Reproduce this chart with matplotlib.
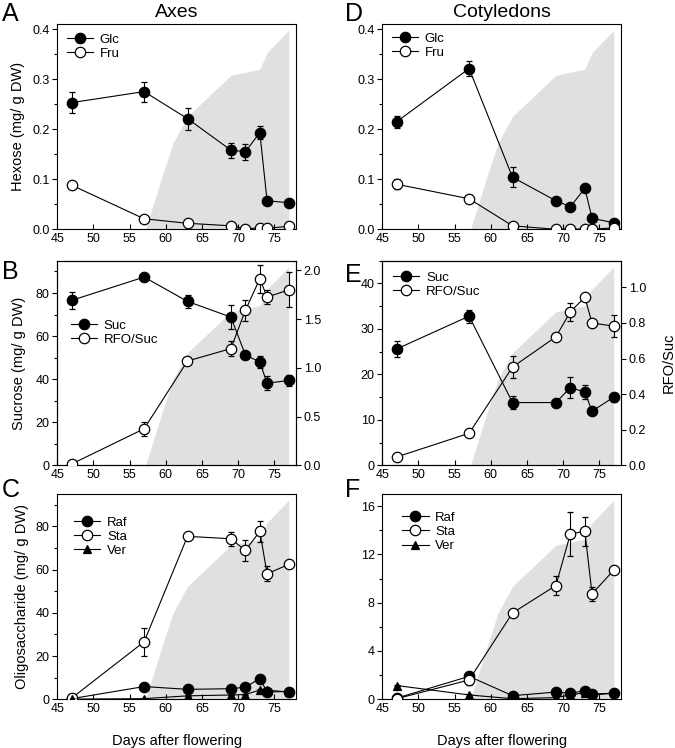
import matplotlib.pyplot as plt
import numpy as np
from matplotlib.ticker import MultipleLocator

plt.rcParams['font.family'] = ['Liberation Sans', 'DejaVu Sans']
plt.rcParams['axes.linewidth'] = 0.8

days = [47, 57, 63, 69, 71, 73, 74, 77]
day_ticks = [45, 50, 55, 60, 65, 70, 75]

# grey background curve, as a fraction of the axis height
shade_days = [57.2, 59.5, 61.0, 63.0, 69.0, 73.0, 74.0, 77.0]
shade_frac = [0.0, 0.26, 0.42, 0.55, 0.75, 0.78, 0.86, 0.97]

# A - axes hexose
ax_glc = [0.253, 0.275, 0.221, 0.158, 0.155, 0.193, 0.057, 0.053]
ax_glc_err = [0.021, 0.020, 0.022, 0.015, 0.016, 0.013, 0.004, 0.007]
ax_fru = [0.088, 0.021, 0.012, 0.007, 0.001, 0.003, 0.002, 0.006]
ax_fru_err = [0.007, 0.004, 0.002, 0.002, 0.001, 0.001, 0.001, 0.002]

# B - axes sucrose and RFO/Suc
ax_suc = [76.6, 87.4, 76.1, 68.8, 51.3, 47.9, 38.1, 39.4]
ax_suc_err = [3.8, 0.8, 2.9, 5.5, 1.5, 2.7, 3.3, 2.7]
ax_rfo = [0.014, 0.375, 1.07, 1.198, 1.59, 1.915, 1.727, 1.80]
ax_rfo_err = [0.01, 0.073, 0.02, 0.08, 0.105, 0.145, 0.068, 0.18]

# C - axes oligosaccharides
ax_raf = [0.3, 5.9, 4.6, 4.9, 5.6, 9.6, 3.4, 3.6]
ax_raf_err = [0.2, 0.5, 0.5, 0.6, 0.6, 1.0, 0.5, 0.4]
ax_sta = [0.6, 26.6, 75.4, 74.3, 68.9, 77.7, 58.1, 62.4]
ax_sta_err = [0.3, 6.4, 1.0, 3.3, 4.7, 4.9, 3.5, 1.0]
ax_ver = [0.1, 0.3, 1.6, 2.0, 2.2, 4.3, 4.2, 3.4]
ax_ver_err = [0.1, 0.1, 0.2, 0.2, 0.2, 0.4, 0.3, 0.3]

# D - cotyledon hexose
cot_glc = [0.215, 0.321, 0.104, 0.057, 0.045, 0.082, 0.022, 0.013]
cot_glc_err = [0.012, 0.015, 0.020, 0.003, 0.005, 0.003, 0.003, 0.002]
cot_fru = [0.090, 0.061, 0.007, 0.0, 0.001, 0.0, 0.0, 0.003]
cot_fru_err = [0.010, 0.003, 0.002, 0.001, 0.001, 0.001, 0.001, 0.001]

# E - cotyledon sucrose and RFO/Suc
cot_suc = [25.6, 32.8, 13.8, 13.8, 17.1, 16.1, 11.9, 15.0]
cot_suc_err = [1.7, 1.4, 1.5, 0.8, 2.4, 1.5, 0.5, 1.0]
cot_rfo = [0.047, 0.18, 0.552, 0.722, 0.863, 0.944, 0.80, 0.782]
cot_rfo_err = [0.005, 0.015, 0.062, 0.02, 0.052, 0.01, 0.02, 0.06]

# F - cotyledon oligosaccharides
cot_raf = [0.1, 1.9, 0.3, 0.6, 0.5, 0.72, 0.44, 0.5]
cot_raf_err = [0.05, 0.1, 0.05, 0.05, 0.05, 0.05, 0.05, 0.05]
cot_sta = [0.05, 1.6, 7.15, 9.42, 13.7, 13.9, 8.73, 10.7]
cot_sta_err = [0.05, 0.45, 0.1, 0.75, 1.8, 1.2, 0.6, 0.2]
cot_ver = [1.14, 0.36, 0.05, 0.14, 0.36, 0.55, 0.36, 0.5]
cot_ver_err = [0.05, 0.1, 0.02, 0.02, 0.05, 0.05, 0.05, 0.05]

hex_ticks = [0.0, 0.1, 0.2, 0.3, 0.4]
suc_ticks_ax = [0, 20, 40, 60, 80]
rfo_ticks_ax = [0.0, 0.5, 1.0, 1.5, 2.0]
suc_ticks_cot = [0, 10, 20, 30, 40]
rfo_ticks_cot = [0.0, 0.2, 0.4, 0.6, 0.8, 1.0]
oligo_ticks_ax = [0, 20, 40, 60, 80]
oligo_ticks_cot = [0, 4, 8, 12, 16]

fig = plt.figure(figsize=(6.75, 7.48), dpi=100)

W, H = 675.0, 748.0
cols = [57.3, 382.3]
rows = [(24, 229.3), (260.7, 465.3), (494, 699.3)]
aw = 238.7
TICK = 9
LEG = 9.5
LAB = 10.5


def make_ax(c, r):
    top, bot = rows[r]
    return fig.add_axes([cols[c] / W, 1 - bot / H, aw / W, (bot - top) / H])


def shade(ax):
    ax.fill_between(shade_days, 0, shade_frac, transform=ax.get_xaxis_transform(),
                    color='#e0e0e0', lw=0, zorder=0)


def series(ax, y, err, marker, face, ms=7.5):
    c = ax.errorbar(days, y, yerr=err, color='black', marker=marker, mfc=face,
                    mec='black', mew=0.9, ms=ms, lw=0.8, elinewidth=0.8,
                    capsize=2.5, capthick=0.8, zorder=3)
    return c[0]


def style(ax, ylim, ticks, minor):
    ax.set_xlim(45, 78)
    ax.set_ylim(*ylim)
    ax.set_xticks(day_ticks)
    ax.set_yticks(ticks)
    ax.yaxis.set_minor_locator(MultipleLocator(minor))
    ax.tick_params(axis='x', direction='in', length=3.5, width=0.8, labelsize=TICK, pad=3)
    ax.tick_params(axis='y', which='major', direction='out', length=3.5, width=0.8, labelsize=TICK, pad=2)
    ax.tick_params(axis='y', which='minor', direction='out', length=2.5, width=0.8)


def right_style(ax, ylim, ticks):
    ax.set_ylim(*ylim)
    ax.set_yticks(ticks)
    ax.tick_params(axis='y', direction='out', length=3.5, width=0.8, labelsize=TICK, pad=2)


def legend(ax, handles, labels, x, y):
    ax.legend(handles, labels, loc='center left', bbox_to_anchor=(x, y), frameon=False,
              fontsize=LEG, handlelength=2.0, handletextpad=0.5, labelspacing=0.15,
              borderpad=0, borderaxespad=0)


def letter(x, y, s):
    fig.text(x / W, 1 - y / H, s, fontsize=18, ha='left', va='top')


# A
a = make_ax(0, 0)
shade(a)
h1 = series(a, ax_glc, ax_glc_err, 'o', 'black')
h2 = series(a, ax_fru, ax_fru_err, 'o', 'white')
style(a, (0, 0.41), hex_ticks, 0.05)
a.set_ylabel('Hexose (mg/ g DW)', fontsize=LAB, labelpad=5)
a.set_title('Axes', fontsize=14, pad=5)
legend(a, [h1, h2], ['Glc', 'Fru'], 0.04, 0.89)

# D
d = make_ax(1, 0)
shade(d)
h1 = series(d, cot_glc, cot_glc_err, 'o', 'black')
h2 = series(d, cot_fru, cot_fru_err, 'o', 'white')
style(d, (0, 0.41), hex_ticks, 0.05)
d.set_title('Cotyledons', fontsize=14, pad=5)
legend(d, [h1, h2], ['Glc', 'Fru'], 0.04, 0.895)

# B
b = make_ax(0, 1)
shade(b)
h1 = series(b, ax_suc, ax_suc_err, 'o', 'black')
style(b, (0, 95), suc_ticks_ax, 10)
b.set_ylabel('Sucrose (mg/ g DW)', fontsize=LAB, labelpad=7)
b2 = b.twinx()
h2 = series(b2, ax_rfo, ax_rfo_err, 'o', 'white')
right_style(b2, (0, 2.1), rfo_ticks_ax)
legend(b2, [h1, h2], ['Suc', 'RFO/Suc'], 0.057, 0.648)

# E
e = make_ax(1, 1)
shade(e)
h1 = series(e, cot_suc, cot_suc_err, 'o', 'black')
style(e, (0, 45), suc_ticks_cot, 5)
e2 = e.twinx()
h2 = series(e2, cot_rfo, cot_rfo_err, 'o', 'white')
right_style(e2, (0, 1.15), rfo_ticks_cot)
e2.set_ylabel('RFO/Suc', fontsize=LAB, labelpad=11)
legend(e2, [h1, h2], ['Suc', 'RFO/Suc'], 0.045, 0.8825)

# C
c = make_ax(0, 2)
shade(c)
h1 = series(c, ax_raf, ax_raf_err, 'o', 'black')
h2 = series(c, ax_sta, ax_sta_err, 'o', 'white')
h3 = series(c, ax_ver, ax_ver_err, '^', 'black', ms=6)
style(c, (0, 95), oligo_ticks_ax, 10)
c.set_ylabel('Oligosaccharide (mg/ g DW)', fontsize=LAB, labelpad=5)
c.set_xlabel('Days after flowering', fontsize=LAB, labelpad=13)
legend(c, [h1, h2, h3], ['Raf', 'Sta', 'Ver'], 0.07, 0.792)

# F
f = make_ax(1, 2)
shade(f)
h1 = series(f, cot_raf, cot_raf_err, 'o', 'black')
h2 = series(f, cot_sta, cot_sta_err, 'o', 'white')
h3 = series(f, cot_ver, cot_ver_err, '^', 'black', ms=6)
style(f, (0, 17), oligo_ticks_cot, 2)
f.set_xlabel('Days after flowering', fontsize=LAB, labelpad=13)
legend(f, [h1, h2, h3], ['Raf', 'Sta', 'Ver'], 0.083, 0.815)

letter(2, 2, 'A')
letter(2, 260, 'B')
letter(2, 478, 'C')
letter(345, 2, 'D')
letter(345, 263, 'E')
letter(345, 478, 'F')

fig.savefig('out.png', dpi=100)
